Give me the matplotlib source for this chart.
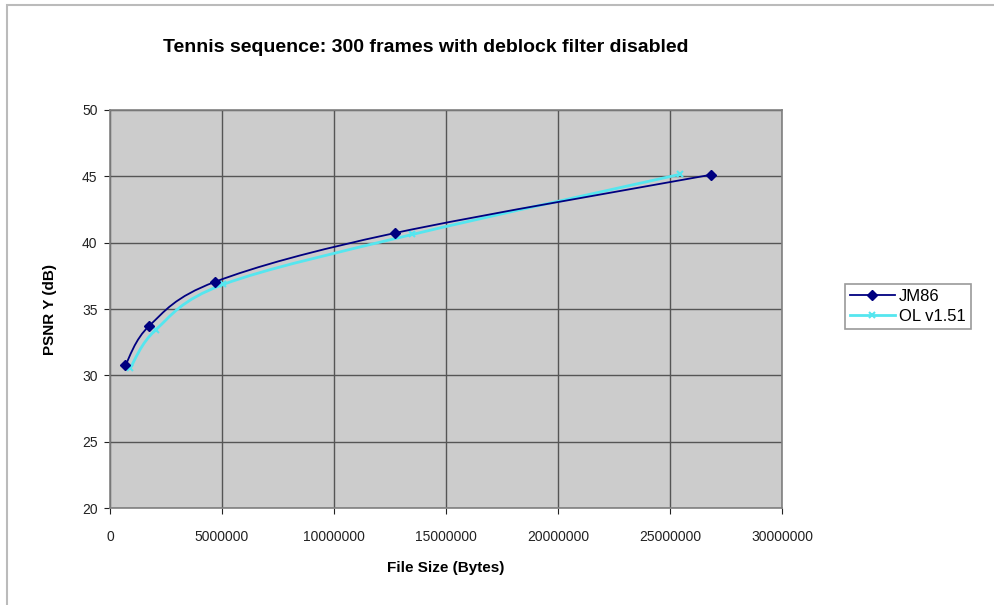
import matplotlib.pyplot as plt
from matplotlib.lines import Line2D
from matplotlib.patches import PathPatch, Rectangle
from matplotlib.path import Path

plt.rcParams['font.family'] = ['Liberation Sans', 'DejaVu Sans']

# data
jm86_size = [680000, 1760000, 4690000, 12700000, 26830000]
jm86_psnr = [30.75, 33.75, 37.05, 40.72, 45.12]
ol_size = [900000, 2050000, 5050000, 13500000, 25450000]
ol_psnr = [30.55, 33.45, 36.85, 40.62, 45.15]

x_ticks = [0, 5000000, 10000000, 15000000, 20000000, 25000000, 30000000]
y_ticks = [20, 25, 30, 35, 40, 45, 50]


def smooth_path(xs, ys):
    # Excel style smoothed line: cubic bezier through the points
    pts = list(zip(xs, ys))
    n = len(pts)
    verts = [pts[0]]
    codes = [Path.MOVETO]
    for i in range(n - 1):
        p0 = pts[i - 1] if i > 0 else pts[i]
        p1 = pts[i]
        p2 = pts[i + 1]
        p3 = pts[i + 2] if i + 2 < n else pts[i + 1]
        c1 = (p1[0] + (p2[0] - p0[0]) / 6, p1[1] + (p2[1] - p0[1]) / 6)
        c2 = (p2[0] - (p3[0] - p1[0]) / 6, p2[1] - (p3[1] - p1[1]) / 6)
        verts += [c1, c2, p2]
        codes += [Path.CURVE4] * 3
    return Path(verts, codes)


fig = plt.figure(figsize=(9.95, 6.05), dpi=100)
ax = fig.add_axes([0.1106, 0.1603, 0.6754, 0.6579])
ax.set_facecolor('#cccccc')

navy = '#000080'
cyan = '#55e6ef'

ax.add_patch(PathPatch(smooth_path(ol_size, ol_psnr), fill=False, edgecolor=cyan, lw=2, zorder=3))
ax.plot(ol_size, ol_psnr, ls='none', marker='x', ms=5, mew=1.5, color=cyan, zorder=4)
ax.add_patch(PathPatch(smooth_path(jm86_size, jm86_psnr), fill=False, edgecolor=navy, lw=1.3, zorder=5))
ax.plot(jm86_size, jm86_psnr, ls='none', marker='D', ms=5, color=navy, zorder=6)

ax.set_xlim(0, 30000000)
ax.set_ylim(20, 50)
ax.set_xticks(x_ticks)
ax.set_xticklabels([str(v) for v in x_ticks])
ax.set_yticks(y_ticks)
ax.grid(True, color='#555555', lw=1)
ax.set_axisbelow(True)
for s in ax.spines.values():
    s.set_color('#808080')
    s.set_linewidth(1.2)
ax.tick_params(labelsize=10, colors='#222222', length=4, width=0.8)
ax.tick_params(axis='x', pad=12)
ax.tick_params(axis='y', pad=5)

ax.set_xlabel('File Size (Bytes)', fontsize=11, fontweight='bold', labelpad=12)
ax.set_ylabel('PSNR Y (dB)', fontsize=11, fontweight='bold', labelpad=18)
fig.text(0.428, 0.921, 'Tennis sequence: 300 frames with deblock filter disabled',
         ha='center', va='center', fontsize=14, fontweight='bold')

handles = [
    Line2D([], [], color=navy, lw=1.3, marker='D', ms=5),
    Line2D([], [], color=cyan, lw=2, marker='x', ms=5, mew=1.5),
]
leg = fig.legend(handles, ['JM86', 'OL v1.51'], loc='center left', bbox_to_anchor=(0.849, 0.494),
                 fontsize=12, frameon=True, fancybox=False, handlelength=2.7,
                 borderpad=0.3, labelspacing=0.3, handletextpad=0.25, borderaxespad=0)
leg.get_frame().set_edgecolor('#808080')
leg.get_frame().set_linewidth(1.2)

# outer chart border
fig.add_artist(Rectangle((0.007, -0.01), 1.0, 1.002, transform=fig.transFigure,
                         fill=False, edgecolor='#bbbbbb', lw=1.5))

fig.savefig('out.png', dpi=100)
